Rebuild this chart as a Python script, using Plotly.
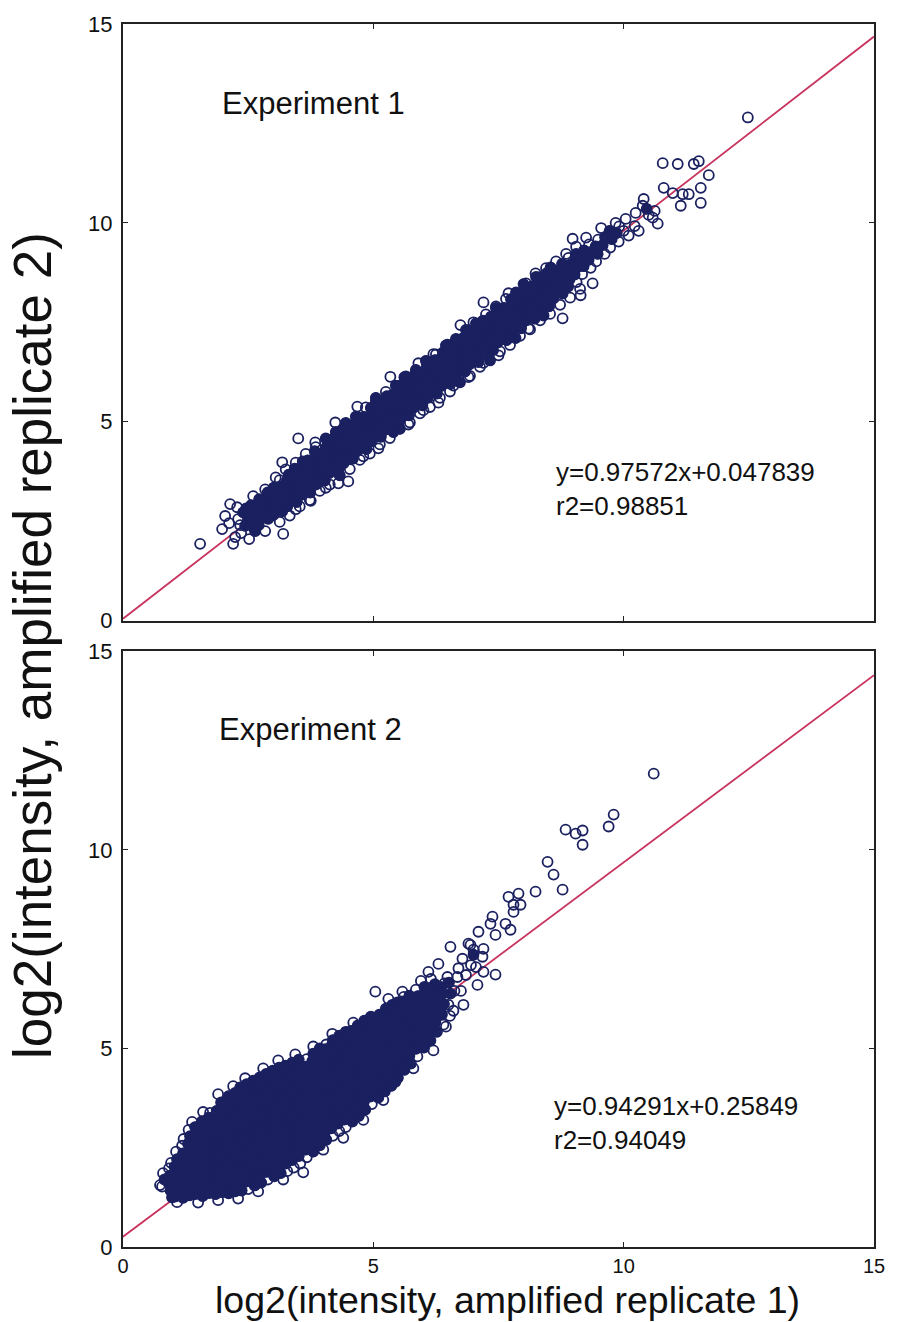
import plotly.graph_objects as go

# ---- values -------------------------------------------------------------
AXIS_TICKS = [0, 5, 10, 15]
AXIS_RANGE = [0, 15]

EXP1_LABEL = "Experiment 1"
EXP1_SLOPE = 0.97572
EXP1_INTERCEPT = 0.047839
EXP1_R2 = 0.98851

EXP2_LABEL = "Experiment 2"
EXP2_SLOPE = 0.94291
EXP2_INTERCEPT = 0.25849
EXP2_R2 = 0.94049

X_TITLE = "log2(intensity, amplified replicate 1)"
Y_TITLE = "log2(intensity, amplified replicate 2)"

# (replicate 1, replicate 2) log2 intensities, experiment 1
EXP1_POINTS = [
    (1.54, 1.93), (1.98, 2.30), (2.04, 2.63), (2.14, 2.93), (2.20, 1.93), (2.24, 2.10), (2.28, 2.85),
    (2.12, 2.45), (2.30, 2.55), (2.36, 2.20), (2.40, 2.72), (2.44, 2.38), (2.50, 2.60), (2.52, 2.05),
    (2.56, 2.90), (2.60, 3.13), (2.64, 2.25), (2.84, 2.25), (3.20, 2.18), (2.70, 2.50), (2.76, 2.80),
    (2.34, 2.40), (2.46, 2.82),
    (2.62, 2.31), (2.57, 2.50), (2.63, 2.69), (2.59, 2.88),
    (2.71, 2.40), (2.77, 2.57), (2.73, 2.74), (2.76, 2.90), (2.72, 3.05),
    (2.90, 2.56), (2.86, 2.74), (2.91, 2.91), (2.85, 3.07), (2.89, 3.22),
    (3.00, 2.65), (3.04, 2.83), (2.99, 3.00), (3.05, 3.17), (3.01, 3.34),
    (3.18, 2.75), (3.14, 2.91), (3.19, 3.07), (3.15, 3.23), (3.17, 3.38), (3.13, 3.53),
    (3.28, 2.87), (3.32, 3.03), (3.29, 3.19), (3.33, 3.35), (3.27, 3.51), (3.31, 3.67),
    (3.47, 2.98), (3.42, 3.14), (3.45, 3.31), (3.41, 3.47), (3.46, 3.64), (3.43, 3.82),
    (3.56, 3.16), (3.60, 3.34), (3.57, 3.51), (3.61, 3.68), (3.55, 3.85), (3.59, 4.00),
    (3.74, 3.22), (3.70, 3.38), (3.75, 3.53), (3.71, 3.69), (3.73, 3.86), (3.69, 4.03),
    (3.85, 3.42), (3.88, 3.60), (3.84, 3.76), (3.89, 3.93), (3.86, 4.09), (3.83, 4.26),
    (4.03, 3.52), (3.98, 3.68), (4.05, 3.85), (3.96, 4.01), (4.01, 4.18), (4.06, 4.36),
    (4.12, 3.71), (4.16, 3.89), (4.13, 4.06), (4.17, 4.23), (4.11, 4.40), (4.15, 4.55),
    (4.30, 3.77), (4.26, 3.93), (4.31, 4.08), (4.27, 4.24), (4.29, 4.41), (4.25, 4.58),
    (4.41, 3.96), (4.44, 4.14), (4.40, 4.30), (4.45, 4.47), (4.42, 4.63), (4.39, 4.80),
    (4.59, 4.07), (4.54, 4.23), (4.57, 4.40), (4.53, 4.56), (4.58, 4.73), (4.55, 4.91),
    (4.68, 4.26), (4.72, 4.44), (4.69, 4.61), (4.73, 4.78), (4.67, 4.95), (4.71, 5.10),
    (4.86, 4.31), (4.82, 4.47), (4.87, 4.62), (4.83, 4.78), (4.85, 4.95), (4.81, 5.12),
    (4.97, 4.51), (5.00, 4.69), (4.96, 4.85), (5.01, 5.02), (4.98, 5.18), (4.95, 5.35),
    (5.15, 4.62), (5.10, 4.78), (5.13, 4.95), (5.09, 5.11), (5.14, 5.28), (5.11, 5.46),
    (5.24, 4.80), (5.28, 4.98), (5.25, 5.15), (5.29, 5.32), (5.23, 5.49), (5.27, 5.64),
    (5.42, 4.86), (5.38, 5.02), (5.43, 5.17), (5.39, 5.33), (5.41, 5.50), (5.37, 5.67),
    (5.53, 5.06), (5.56, 5.24), (5.52, 5.40), (5.57, 5.57), (5.54, 5.73), (5.51, 5.90),
    (5.71, 5.16), (5.66, 5.32), (5.69, 5.49), (5.65, 5.65), (5.70, 5.82), (5.67, 6.00),
    (5.80, 5.35), (5.84, 5.53), (5.81, 5.70), (5.85, 5.87), (5.79, 6.04), (5.83, 6.19),
    (5.98, 5.41), (5.94, 5.57), (5.99, 5.72), (5.95, 5.88), (5.97, 6.05), (5.93, 6.22),
    (6.09, 5.60), (6.12, 5.78), (6.08, 5.94), (6.13, 6.11), (6.10, 6.27), (6.07, 6.44),
    (6.27, 5.71), (6.22, 5.87), (6.25, 6.04), (6.21, 6.20), (6.26, 6.37), (6.23, 6.55),
    (6.36, 5.90), (6.40, 6.08), (6.37, 6.25), (6.41, 6.42), (6.35, 6.59), (6.39, 6.74),
    (6.54, 5.95), (6.50, 6.11), (6.55, 6.26), (6.51, 6.42), (6.53, 6.59), (6.49, 6.76),
    (6.65, 6.15), (6.68, 6.33), (6.64, 6.49), (6.69, 6.66), (6.66, 6.82), (6.63, 6.99),
    (6.83, 6.26), (6.78, 6.42), (6.81, 6.59), (6.77, 6.75), (6.82, 6.92), (6.79, 7.10),
    (6.92, 6.44), (6.96, 6.62), (6.93, 6.79), (6.97, 6.96), (6.91, 7.13), (6.95, 7.28),
    (7.10, 6.50), (7.06, 6.66), (7.11, 6.81), (7.07, 6.97), (7.09, 7.14), (7.05, 7.31),
    (7.21, 6.70), (7.24, 6.88), (7.20, 7.04), (7.25, 7.21), (7.22, 7.37), (7.19, 7.54),
    (7.39, 6.80), (7.34, 6.96), (7.37, 7.13), (7.33, 7.29), (7.38, 7.46), (7.35, 7.64),
    (7.48, 6.99), (7.52, 7.17), (7.49, 7.34), (7.53, 7.51), (7.47, 7.68), (7.51, 7.83),
    (7.66, 7.05), (7.62, 7.21), (7.67, 7.36), (7.63, 7.52), (7.65, 7.69), (7.61, 7.86),
    (7.77, 7.24), (7.80, 7.42), (7.76, 7.58), (7.81, 7.75), (7.78, 7.91), (7.75, 8.08),
    (7.95, 7.35), (7.90, 7.51), (7.93, 7.68), (7.89, 7.84), (7.94, 8.01), (7.91, 8.19),
    (8.04, 7.54), (8.08, 7.72), (8.05, 7.89), (8.09, 8.06), (8.03, 8.23), (8.07, 8.38),
    (8.22, 7.59), (8.18, 7.75), (8.23, 7.90), (8.19, 8.06), (8.21, 8.23), (8.17, 8.40),
    (8.33, 7.79), (8.36, 7.97), (8.32, 8.13), (8.37, 8.30), (8.34, 8.46), (8.31, 8.63),
    (8.51, 7.90), (8.46, 8.06), (8.49, 8.23), (8.45, 8.39), (8.50, 8.56), (8.47, 8.74),
    (8.60, 8.10), (8.64, 8.28), (8.61, 8.46), (8.65, 8.64), (8.59, 8.82),
    (8.78, 8.22), (8.74, 8.41), (8.79, 8.62), (8.75, 8.80), (8.77, 8.97),
    (8.89, 8.40), (8.92, 8.58), (8.88, 8.77), (8.93, 8.95), (8.90, 9.12),
    (9.06, 8.51), (9.02, 8.70), (9.07, 8.88), (9.03, 9.06), (9.05, 9.22),
    (9.17, 8.71), (9.20, 8.91), (9.16, 9.11), (9.21, 9.31),
    (9.34, 8.87), (9.30, 9.07), (9.35, 9.27), (9.31, 9.46),
    (9.45, 9.03), (9.48, 9.22), (9.44, 9.41), (9.49, 9.58),
    (9.62, 9.22), (9.58, 9.44), (9.63, 9.64),
    (9.73, 9.38), (9.76, 9.59), (9.72, 9.80),
    (9.90, 9.53), (9.86, 9.74), (9.91, 9.91),
    (3.05, 3.60), (3.25, 3.80), (3.45, 3.97), (3.65, 4.19), (3.85, 4.36), (4.05, 4.58), (4.25, 4.74),
    (4.45, 4.97), (4.65, 5.13), (4.85, 5.36), (5.05, 5.52), (5.25, 5.75), (5.45, 5.91), (5.65, 6.14),
    (5.85, 6.30), (6.05, 6.53), (6.25, 6.69), (6.45, 6.92), (6.65, 7.08), (6.85, 7.31), (7.05, 7.47),
    (7.25, 7.70), (7.45, 7.86), (7.65, 8.09), (7.85, 8.25), (8.05, 8.48), (8.25, 8.64), (8.45, 8.86),
    (8.65, 9.03), (8.85, 9.22), (9.05, 9.40),
    (3.13, 2.48), (3.33, 2.64), (3.53, 2.87), (3.73, 3.03), (3.93, 3.26), (4.13, 3.42), (4.33, 3.65),
    (4.53, 3.81), (4.73, 4.04), (4.93, 4.20), (5.13, 4.43), (5.33, 4.59), (5.53, 4.82), (5.73, 4.98),
    (5.93, 5.21), (6.13, 5.37), (6.33, 5.60), (6.53, 5.76), (6.73, 5.99), (6.93, 6.15), (7.13, 6.38),
    (7.33, 6.54), (7.53, 6.77), (7.73, 6.93), (7.93, 7.16), (8.13, 7.32), (8.33, 7.55), (8.53, 7.71),
    (8.73, 7.94), (8.93, 8.12), (9.13, 8.34),
    (2.84, 3.30), (3.18, 3.98), (3.50, 4.58), (3.84, 4.48), (4.24, 4.98), (4.68, 5.38), (5.05, 5.60),
    (5.34, 6.13), (5.62, 6.12), (5.90, 6.47), (6.20, 6.70), (6.48, 6.94), (6.74, 7.43), (7.00, 7.50),
    (7.20, 8.00), (7.45, 7.90), (7.70, 8.23), (8.00, 8.46), (8.24, 8.73), (8.54, 8.88), (8.98, 9.60),
    (9.25, 9.63), (9.55, 9.87),
    (3.45, 2.80), (3.75, 3.01), (4.05, 3.34), (4.30, 3.45), (4.50, 3.50), (4.80, 4.13), (5.10, 4.33),
    (5.40, 4.74), (5.70, 4.93), (6.00, 5.29), (6.30, 5.48), (6.60, 5.91), (6.90, 6.12), (7.20, 6.48),
    (7.50, 6.67), (7.84, 7.10), (8.10, 7.34), (8.40, 7.67), (8.78, 7.60), (9.14, 8.18), (9.38, 8.48),
    (9.84, 10.00), (10.04, 10.10), (10.10, 9.68), (10.24, 10.25), (10.30, 9.80), (10.38, 10.43),
    (10.40, 10.60), (10.50, 10.20), (10.58, 10.13), (10.68, 9.98), (10.80, 10.88), (10.98, 10.75),
    (11.14, 10.43), (11.18, 10.72), (11.30, 10.72), (11.54, 10.88), (11.54, 10.50), (11.70, 11.20),
    (10.78, 11.50), (11.08, 11.48), (11.40, 11.48), (11.50, 11.55), (12.48, 12.65), (10.22, 9.92),
    (10.46, 10.35), (10.00, 9.80), (10.62, 10.30),
]

# (replicate 1, replicate 2) log2 intensities, experiment 2
EXP2_POINTS = [
    (0.78, 1.52), (0.83, 1.70), (0.80, 1.86),
    (0.95, 1.42), (0.91, 1.61), (0.94, 1.80), (0.92, 1.98), (0.96, 2.12),
    (1.04, 1.27), (1.08, 1.46), (1.05, 1.64), (1.07, 1.83), (1.03, 2.02), (1.08, 2.21), (1.06, 2.40),
    (1.20, 1.24), (1.17, 1.42), (1.21, 1.62), (1.18, 1.80), (1.22, 1.99), (1.16, 2.17), (1.20, 2.36),
    (1.18, 2.55), (1.21, 2.72),
    (1.33, 1.30), (1.30, 1.49), (1.34, 1.67), (1.31, 1.86), (1.35, 2.05), (1.29, 2.23), (1.33, 2.42),
    (1.30, 2.60), (1.34, 2.79), (1.31, 2.95),
    (1.44, 1.33), (1.47, 1.52), (1.43, 1.71), (1.46, 1.90), (1.42, 2.08), (1.48, 2.27), (1.45, 2.46),
    (1.43, 2.64), (1.47, 2.83), (1.44, 3.02),
    (1.59, 1.28), (1.56, 1.46), (1.60, 1.65), (1.57, 1.84), (1.61, 2.03), (1.55, 2.22), (1.59, 2.41),
    (1.57, 2.60), (1.60, 2.79), (1.56, 2.98), (1.58, 3.17),
    (1.72, 1.36), (1.69, 1.55), (1.73, 1.74), (1.70, 1.93), (1.74, 2.12), (1.68, 2.31), (1.72, 2.50),
    (1.70, 2.69), (1.73, 2.88), (1.69, 3.07), (1.71, 3.26), (1.74, 3.38),
    (1.85, 1.33), (1.82, 1.52), (1.86, 1.72), (1.83, 1.91), (1.87, 2.10), (1.81, 2.29), (1.85, 2.48),
    (1.83, 2.67), (1.86, 2.86), (1.82, 3.05), (1.84, 3.24), (1.87, 3.43),
    (1.98, 1.38), (1.95, 1.57), (1.99, 1.76), (1.96, 1.95), (2.00, 2.14), (1.94, 2.33), (1.98, 2.52),
    (1.96, 2.71), (1.99, 2.90), (1.95, 3.09), (1.97, 3.28), (2.00, 3.47), (1.96, 3.64),
    (2.11, 1.35), (2.08, 1.54), (2.12, 1.73), (2.09, 1.92), (2.13, 2.11), (2.07, 2.30), (2.11, 2.49),
    (2.09, 2.68), (2.12, 2.87), (2.08, 3.06), (2.10, 3.25), (2.13, 3.44), (2.09, 3.63), (2.11, 3.80),
    (2.24, 1.40), (2.21, 1.59), (2.25, 1.78), (2.22, 1.97), (2.26, 2.16), (2.20, 2.35), (2.24, 2.54),
    (2.22, 2.73), (2.25, 2.92), (2.21, 3.11), (2.23, 3.30), (2.26, 3.49), (2.22, 3.68), (2.24, 3.88),
    (2.37, 1.42), (2.34, 1.61), (2.38, 1.80), (2.35, 1.99), (2.39, 2.18), (2.33, 2.37), (2.37, 2.56),
    (2.35, 2.75), (2.38, 2.94), (2.34, 3.13), (2.36, 3.32), (2.39, 3.51), (2.35, 3.70), (2.37, 3.89),
    (2.34, 4.02),
    (2.50, 1.46), (2.47, 1.65), (2.51, 1.84), (2.48, 2.03), (2.52, 2.22), (2.46, 2.41), (2.50, 2.60),
    (2.48, 2.79), (2.51, 2.98), (2.47, 3.17), (2.49, 3.36), (2.52, 3.55), (2.48, 3.74), (2.50, 3.93),
    (2.47, 4.10),
    (2.63, 1.55), (2.60, 1.74), (2.64, 1.93), (2.61, 2.12), (2.65, 2.31), (2.59, 2.50), (2.63, 2.69),
    (2.61, 2.88), (2.64, 3.07), (2.60, 3.26), (2.62, 3.45), (2.65, 3.64), (2.61, 3.83), (2.63, 4.02),
    (2.60, 4.19),
    (2.76, 1.62), (2.73, 1.81), (2.77, 2.00), (2.74, 2.19), (2.78, 2.38), (2.72, 2.57), (2.76, 2.76),
    (2.74, 2.95), (2.77, 3.14), (2.73, 3.33), (2.75, 3.52), (2.78, 3.71), (2.74, 3.90), (2.76, 4.09),
    (2.73, 4.27),
    (2.89, 1.70), (2.86, 1.89), (2.90, 2.08), (2.87, 2.27), (2.91, 2.46), (2.85, 2.65), (2.89, 2.84),
    (2.87, 3.03), (2.90, 3.22), (2.86, 3.41), (2.88, 3.60), (2.91, 3.79), (2.87, 3.98), (2.89, 4.17),
    (2.86, 4.36),
    (3.02, 1.78), (2.99, 1.97), (3.03, 2.16), (3.00, 2.35), (3.04, 2.54), (2.98, 2.73), (3.02, 2.92),
    (3.00, 3.11), (3.03, 3.30), (2.99, 3.49), (3.01, 3.68), (3.04, 3.87), (3.00, 4.06), (3.02, 4.25),
    (2.99, 4.44),
    (3.15, 1.86), (3.12, 2.05), (3.16, 2.24), (3.13, 2.43), (3.17, 2.62), (3.11, 2.81), (3.15, 3.00),
    (3.13, 3.19), (3.16, 3.38), (3.12, 3.57), (3.14, 3.76), (3.17, 3.95), (3.13, 4.14), (3.15, 4.33),
    (3.12, 4.52),
    (3.28, 1.91), (3.25, 2.10), (3.29, 2.29), (3.26, 2.48), (3.30, 2.67), (3.24, 2.86), (3.28, 3.05),
    (3.26, 3.24), (3.29, 3.43), (3.25, 3.62), (3.27, 3.81), (3.30, 4.00), (3.26, 4.19), (3.28, 4.38),
    (3.25, 4.57),
    (3.41, 2.00), (3.38, 2.19), (3.42, 2.38), (3.39, 2.57), (3.43, 2.76), (3.37, 2.95), (3.41, 3.14),
    (3.39, 3.33), (3.42, 3.52), (3.38, 3.71), (3.40, 3.90), (3.43, 4.09), (3.39, 4.28), (3.41, 4.47),
    (3.38, 4.64),
    (3.54, 2.10), (3.51, 2.29), (3.55, 2.48), (3.52, 2.67), (3.56, 2.86), (3.50, 3.05), (3.54, 3.24),
    (3.52, 3.43), (3.55, 3.62), (3.51, 3.81), (3.53, 4.00), (3.56, 4.19), (3.52, 4.38), (3.54, 4.57),
    (3.51, 4.72),
    (3.67, 2.26), (3.64, 2.45), (3.68, 2.64), (3.65, 2.83), (3.69, 3.02), (3.63, 3.21), (3.67, 3.40),
    (3.65, 3.59), (3.68, 3.78), (3.64, 3.97), (3.66, 4.16), (3.69, 4.35), (3.65, 4.54), (3.67, 4.73),
    (3.80, 2.40), (3.77, 2.59), (3.81, 2.78), (3.78, 2.97), (3.82, 3.16), (3.76, 3.35), (3.80, 3.54),
    (3.78, 3.73), (3.81, 3.92), (3.77, 4.11), (3.79, 4.30), (3.82, 4.49), (3.78, 4.68), (3.80, 4.87),
    (3.93, 2.56), (3.90, 2.75), (3.94, 2.94), (3.91, 3.13), (3.95, 3.32), (3.89, 3.51), (3.93, 3.70),
    (3.91, 3.89), (3.94, 4.08), (3.90, 4.27), (3.92, 4.46), (3.95, 4.65), (3.91, 4.84), (3.93, 5.00),
    (4.06, 2.70), (4.03, 2.89), (4.07, 3.08), (4.04, 3.27), (4.08, 3.46), (4.02, 3.65), (4.06, 3.84),
    (4.04, 4.03), (4.07, 4.22), (4.03, 4.41), (4.05, 4.60), (4.08, 4.79), (4.04, 4.98), (4.06, 5.10),
    (4.19, 2.80), (4.16, 2.99), (4.20, 3.18), (4.17, 3.37), (4.21, 3.56), (4.15, 3.75), (4.19, 3.94),
    (4.17, 4.13), (4.20, 4.32), (4.16, 4.51), (4.18, 4.70), (4.21, 4.89), (4.17, 5.08), (4.19, 5.21),
    (4.32, 2.92), (4.29, 3.11), (4.33, 3.30), (4.30, 3.49), (4.34, 3.68), (4.28, 3.87), (4.32, 4.06),
    (4.30, 4.25), (4.33, 4.44), (4.29, 4.63), (4.31, 4.82), (4.34, 5.01), (4.30, 5.20), (4.32, 5.32),
    (4.45, 3.02), (4.42, 3.21), (4.46, 3.40), (4.43, 3.59), (4.47, 3.78), (4.41, 3.97), (4.45, 4.16),
    (4.43, 4.35), (4.46, 4.54), (4.42, 4.73), (4.44, 4.92), (4.47, 5.11), (4.43, 5.30), (4.45, 5.42),
    (4.58, 3.16), (4.55, 3.35), (4.59, 3.54), (4.56, 3.73), (4.60, 3.92), (4.54, 4.11), (4.58, 4.30),
    (4.56, 4.49), (4.59, 4.68), (4.55, 4.87), (4.57, 5.06), (4.60, 5.25), (4.56, 5.44),
    (4.71, 3.30), (4.68, 3.49), (4.72, 3.68), (4.69, 3.87), (4.73, 4.06), (4.67, 4.25), (4.71, 4.44),
    (4.69, 4.63), (4.72, 4.82), (4.68, 5.01), (4.70, 5.20), (4.73, 5.39), (4.69, 5.58),
    (4.84, 3.46), (4.81, 3.65), (4.85, 3.84), (4.82, 4.03), (4.86, 4.22), (4.80, 4.41), (4.84, 4.60),
    (4.82, 4.79), (4.85, 4.98), (4.81, 5.17), (4.83, 5.36), (4.86, 5.55), (4.82, 5.70),
    (4.97, 3.60), (4.94, 3.79), (4.98, 3.98), (4.95, 4.17), (4.99, 4.36), (4.93, 4.55), (4.97, 4.74),
    (4.95, 4.93), (4.98, 5.12), (4.94, 5.31), (4.96, 5.50), (4.99, 5.69), (4.95, 5.80),
    (5.10, 3.76), (5.07, 3.95), (5.11, 4.14), (5.08, 4.33), (5.12, 4.52), (5.06, 4.71), (5.10, 4.90),
    (5.08, 5.09), (5.11, 5.28), (5.07, 5.47), (5.09, 5.66), (5.12, 5.85),
    (5.23, 3.92), (5.20, 4.11), (5.24, 4.30), (5.21, 4.49), (5.25, 4.68), (5.19, 4.87), (5.23, 5.06),
    (5.21, 5.25), (5.24, 5.44), (5.20, 5.63), (5.22, 5.82), (5.25, 6.00),
    (5.36, 4.06), (5.33, 4.25), (5.37, 4.44), (5.34, 4.63), (5.38, 4.82), (5.32, 5.01), (5.36, 5.20),
    (5.34, 5.39), (5.37, 5.58), (5.33, 5.77), (5.35, 5.96), (5.38, 6.10),
    (5.49, 4.26), (5.46, 4.45), (5.50, 4.64), (5.47, 4.83), (5.51, 5.02), (5.45, 5.21), (5.49, 5.40),
    (5.47, 5.59), (5.50, 5.78), (5.46, 5.97), (5.48, 6.16),
    (5.62, 4.46), (5.59, 4.65), (5.63, 4.84), (5.60, 5.03), (5.64, 5.22), (5.58, 5.41), (5.62, 5.60),
    (5.60, 5.79), (5.63, 5.98), (5.59, 6.17), (5.61, 6.30),
    (5.75, 4.62), (5.72, 4.81), (5.76, 5.00), (5.73, 5.19), (5.77, 5.38), (5.71, 5.57), (5.75, 5.76),
    (5.73, 5.95), (5.76, 6.14), (5.72, 6.33),
    (5.88, 4.80), (5.85, 4.99), (5.89, 5.18), (5.86, 5.37), (5.90, 5.56), (5.84, 5.75), (5.88, 5.94),
    (5.86, 6.13), (5.89, 6.32), (5.85, 6.48),
    (6.01, 5.02), (5.98, 5.21), (6.02, 5.40), (5.99, 5.59), (6.03, 5.78), (5.97, 5.97), (6.01, 6.16),
    (5.99, 6.35), (6.02, 6.55),
    (6.14, 5.20), (6.11, 5.42), (6.15, 5.64), (6.12, 5.86), (6.16, 6.08), (6.10, 6.30), (6.14, 6.52),
    (6.27, 5.42), (6.24, 5.66), (6.28, 5.90), (6.25, 6.14), (6.29, 6.38), (6.23, 6.62),
    (6.40, 5.60), (6.37, 5.86), (6.41, 6.12), (6.38, 6.38), (6.42, 6.64),
    (6.53, 5.82), (6.50, 6.10), (6.54, 6.38), (6.51, 6.66),
    (0.74, 1.56), (1.08, 1.13), (0.98, 1.25), (1.50, 1.12), (1.90, 1.18), (2.30, 1.22), (2.70, 1.40),
    (3.20, 1.70), (3.60, 1.88), (4.00, 2.45), (4.40, 2.75), (4.80, 3.20), (5.20, 3.70), (5.44, 4.16),
    (5.80, 4.50), (6.20, 4.95),
    (1.38, 3.15), (1.60, 3.40), (1.90, 3.85), (2.20, 4.05), (2.44, 4.25), (2.80, 4.50), (3.10, 4.70),
    (3.44, 4.85), (3.80, 5.05), (4.18, 5.37), (4.60, 5.65), (5.04, 6.43), (5.30, 6.25), (5.58, 6.43),
    (5.95, 6.70),
    (6.15, 6.75), (6.30, 7.13), (6.10, 6.93), (6.68, 6.80), (6.54, 7.56), (6.90, 7.64), (7.00, 7.49),
    (6.78, 7.26), (7.18, 7.31), (7.20, 6.93), (7.44, 6.86), (7.08, 6.60), (6.80, 6.10), (6.62, 6.45),
    (6.70, 7.02), (6.85, 6.85), (6.95, 7.10), (7.05, 7.05), (6.60, 5.95), (6.45, 5.55), (6.48, 6.80),
    (6.35, 6.55), (6.75, 6.45),
    (7.10, 7.94), (6.94, 7.61), (7.20, 7.51), (7.00, 7.36), (7.38, 8.32), (7.34, 8.14), (7.64, 8.14),
    (7.74, 7.99), (7.44, 7.86), (7.70, 8.82), (7.90, 8.90), (7.80, 8.62), (7.94, 8.62), (7.80, 8.44),
    (8.24, 8.95), (8.48, 9.70), (8.60, 9.38), (8.78, 9.00), (8.84, 10.51), (9.04, 10.41), (9.18, 10.49),
    (9.18, 10.13), (9.80, 10.89), (9.70, 10.59), (10.60, 11.92),
]

# ---- styling ------------------------------------------------------------
FONT = "Liberation Sans, Arial, Helvetica, sans-serif"
MARKER_COLOR = "#1b2160"
FIT_COLOR = "#c8345e"
AXIS_COLOR = "#222222"
TEXT_COLOR = "#111111"
MARKER_SIZE = 10
MARKER_LINE = 1.8

WIDTH, HEIGHT = 897, 1322
MARGIN = dict(l=123, r=18, t=19, b=75)
TOP_DOMAIN = [0.5122, 1.0]
BOTTOM_DOMAIN = [0.0, 0.487]


def crowded(points, domain):
    """Flag points whose marker sits inside a tightly packed cluster (screen space)."""
    plot_w = WIDTH - MARGIN["l"] - MARGIN["r"]
    plot_h = (HEIGHT - MARGIN["t"] - MARGIN["b"]) * (domain[1] - domain[0])
    span = AXIS_RANGE[1] - AXIS_RANGE[0]
    sx, sy = plot_w / span, plot_h / span
    r2 = 12.0 ** 2
    flags = []
    for i, (xi, yi) in enumerate(points):
        n = 0
        for j, (xj, yj) in enumerate(points):
            if i != j:
                dx, dy = (xi - xj) * sx, (yi - yj) * sy
                if dx * dx + dy * dy <= r2:
                    n += 1
        flags.append(n >= 6)
    return flags


fig = go.Figure()

panels = [
    (EXP1_POINTS, EXP1_SLOPE, EXP1_INTERCEPT, "x", "y", TOP_DOMAIN),
    (EXP2_POINTS, EXP2_SLOPE, EXP2_INTERCEPT, "x2", "y2", BOTTOM_DOMAIN),
]
for points, slope, intercept, xa, ya, dom in panels:
    x0, x1 = AXIS_RANGE
    # least-squares fit line
    fig.add_trace(go.Scatter(
        x=[x0, x1], y=[slope * x0 + intercept, slope * x1 + intercept],
        mode="lines", line=dict(color=FIT_COLOR, width=1.8),
        xaxis=xa, yaxis=ya, hoverinfo="skip", showlegend=False,
    ))
    xs = [p[0] for p in points]
    ys = [p[1] for p in points]
    # overlapping circles in the dense core merge into a solid mass
    flags = crowded(points, dom)
    fig.add_trace(go.Scatter(
        x=[x for x, f in zip(xs, flags) if f], y=[y for y, f in zip(ys, flags) if f],
        mode="markers",
        marker=dict(symbol="circle", size=MARKER_SIZE + 1, color=MARKER_COLOR, line=dict(width=0)),
        xaxis=xa, yaxis=ya, showlegend=False, hoverinfo="skip",
    ))
    fig.add_trace(go.Scatter(
        x=xs, y=ys, mode="markers",
        marker=dict(symbol="circle-open", size=MARKER_SIZE, color=MARKER_COLOR,
                    line=dict(width=MARKER_LINE, color=MARKER_COLOR)),
        xaxis=xa, yaxis=ya, showlegend=False,
    ))

axis_common = dict(
    range=AXIS_RANGE, tickvals=AXIS_TICKS, ticktext=[str(t) for t in AXIS_TICKS],
    showgrid=False, zeroline=False, showline=True, linecolor=AXIS_COLOR, linewidth=2,
    mirror="ticks", ticks="inside", ticklen=5, tickwidth=1.2, tickcolor=AXIS_COLOR,
    tickfont=dict(family=FONT, size=22, color=TEXT_COLOR),
)
x_bottom = dict(axis_common, tickfont=dict(family=FONT, size=20, color=TEXT_COLOR))

fig.update_layout(
    width=WIDTH, height=HEIGHT,
    margin=MARGIN,
    paper_bgcolor="white", plot_bgcolor="white",
    xaxis=dict(domain=[0, 1], anchor="y", showticklabels=False, **axis_common),
    yaxis=dict(domain=TOP_DOMAIN, anchor="x", ticklabelstandoff=4, **axis_common),
    xaxis2=dict(domain=[0, 1], anchor="y2", showticklabels=True, ticklabelstandoff=0, **x_bottom),
    yaxis2=dict(domain=BOTTOM_DOMAIN, anchor="x2", ticklabelstandoff=4, **axis_common),
    showlegend=False,
)


def fit_text(slope, intercept, r2):
    return f"y={slope}x+{intercept}<br>r2={r2}"


annotations = [
    dict(text=EXP1_LABEL, xref="x domain", yref="y domain", x=0.254, y=0.867,
         xanchor="center", yanchor="middle", font=dict(size=31)),
    dict(text=fit_text(EXP1_SLOPE, EXP1_INTERCEPT, EXP1_R2), xref="x domain", yref="y domain",
         x=0.574, y=0.2204, xanchor="left", yanchor="middle", align="left", font=dict(size=26)),
    dict(text=EXP2_LABEL, xref="x2 domain", yref="y2 domain", x=0.25, y=0.8696,
         xanchor="center", yanchor="middle", font=dict(size=31)),
    dict(text=fit_text(EXP2_SLOPE, EXP2_INTERCEPT, EXP2_R2), xref="x2 domain", yref="y2 domain",
         x=0.5714, y=0.2074, xanchor="left", yanchor="middle", align="left", font=dict(size=26)),
    dict(text=X_TITLE, xref="paper", yref="paper", x=0.512, y=-0.04316,
         xanchor="center", yanchor="middle", font=dict(size=37.5)),
    dict(text=Y_TITLE, xref="paper", yref="paper", x=-0.1204, y=0.4919,
         xanchor="center", yanchor="middle", textangle=-90, font=dict(size=53)),
]
for a in annotations:
    a["showarrow"] = False
    a["font"] = dict(family=FONT, color=TEXT_COLOR, **a["font"])
fig.update_layout(annotations=annotations)

fig.write_html("out.html")
